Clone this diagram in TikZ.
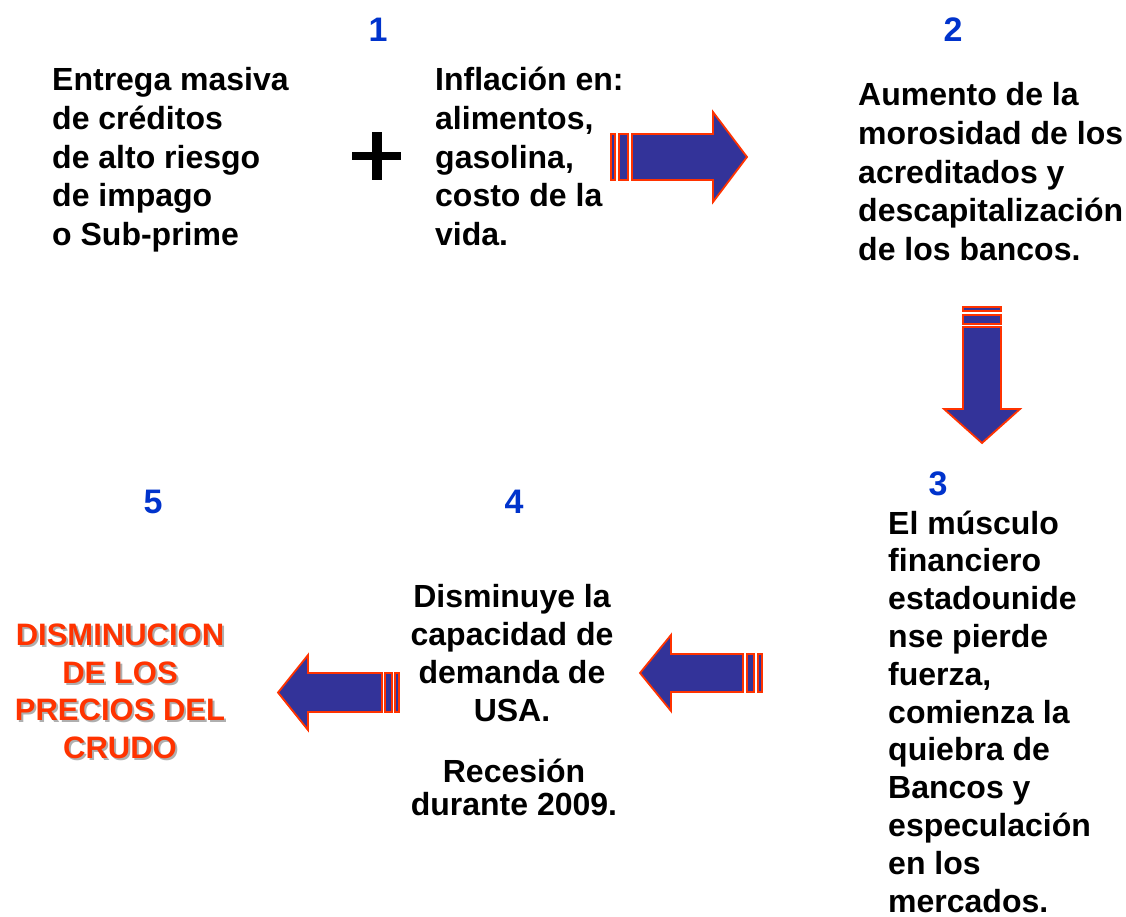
\documentclass[tikz,border=0pt]{standalone}
\usepackage{fontspec}
\setmainfont{Liberation Sans}
\definecolor{numblue}{RGB}{0,51,204}
\definecolor{arrfill}{RGB}{51,51,153}
\definecolor{arredge}{RGB}{255,51,0}
\definecolor{shadowgray}{RGB}{175,175,175}
\tikzset{
  txt/.style={inner sep=0pt, font=\bfseries\fontsize{32}{38.5}\selectfont, align=left, anchor=base west},
  ctxt/.style={inner sep=0pt, font=\bfseries\fontsize{32}{37.8}\selectfont, align=center, anchor=base},
  num/.style={inner sep=0pt, font=\bfseries\fontsize{34}{34}\selectfont, text=numblue, anchor=base},
  red/.style={inner sep=0pt, font=\bfseries\fontsize{31}{37.5}\selectfont, align=center, anchor=base, text=arredge},
  bigarrow/.style={fill=arrfill, draw=arredge, line width=1.8pt, line join=miter}
}
\begin{document}
\begin{tikzpicture}[x=1pt,y=-1pt]
\useasboundingbox (0,0) rectangle (1126,917);
% numbers
\node[num] (n1) at (378,42) {1};
\node[num] (n2) at (953,42) {2};
\node[num] (n3) at (938,495) {3};
\node[num] (n4) at (514,513) {4};
\node[num] (n5) at (153,513) {5};
% texts (anchored at the baseline of their last line)
\node[txt] (t1) at (52,245) {Entrega masiva\\de créditos\\de alto riesgo\\de impago\\o Sub-prime};
\node[txt] (t2) at (435,245) {Inflación en:\\alimentos,\\gasolina,\\costo de la\\vida.};
\node[txt] (t3) at (858,260) {Aumento de la\\morosidad de los\\acreditados y\\descapitalización\\de los bancos.};
\node[txt, font=\bfseries\fontsize{32}{37.8}\selectfont] (t4) at (888,912) {El músculo\\financiero\\estadounide\\nse pierde\\fuerza,\\comienza la\\quiebra de\\Bancos y\\especulación\\en los\\mercados.};
\node[ctxt] (t5) at (512,721) {Disminuye la\\capacidad de\\demanda de\\USA.};
\node[ctxt, font=\bfseries\fontsize{32}{33}\selectfont] (t6) at (514,815) {Recesión\\durante 2009.};
\node[red, text=shadowgray] (t7s) at (122,760) {DISMINUCION\\DE LOS\\PRECIOS DEL\\CRUDO};
\node[red] (t7) at (120,758) {DISMINUCION\\DE LOS\\PRECIOS DEL\\CRUDO};
% plus sign
\fill (352,152) rectangle (401,160);
\fill (372,132) rectangle (382,180);
% arrow 1 (right)
\draw[bigarrow] (611,134) rectangle (615,180);
\draw[bigarrow] (619,134) rectangle (628,180);
\draw[bigarrow] (632,134) -- (713,134) -- (713,112) -- (747,157) -- (713,202) -- (713,180) -- (632,180) -- cycle;
% arrow 2 (down)
\draw[bigarrow] (963,307) rectangle (1001,311);
\draw[bigarrow] (963,315) rectangle (1001,324);
\draw[bigarrow] (963,327) -- (1001,327) -- (1001,409) -- (1020,409) -- (982,443) -- (944,409) -- (963,409) -- cycle;
% arrow 3 (left, middle)
\draw[bigarrow] (758,654) rectangle (762,692);
\draw[bigarrow] (747,654) rectangle (754,692);
\draw[bigarrow] (743,654) -- (671,654) -- (671,635) -- (640,673) -- (671,711) -- (671,692) -- (743,692) -- cycle;
% arrow 4 (left, far)
\draw[bigarrow] (395,673) rectangle (399,712);
\draw[bigarrow] (385,673) rectangle (392,712);
\draw[bigarrow] (382,673) -- (308,673) -- (308,655) -- (278,692.5) -- (308,730) -- (308,712) -- (382,712) -- cycle;
\end{tikzpicture}
\end{document}
